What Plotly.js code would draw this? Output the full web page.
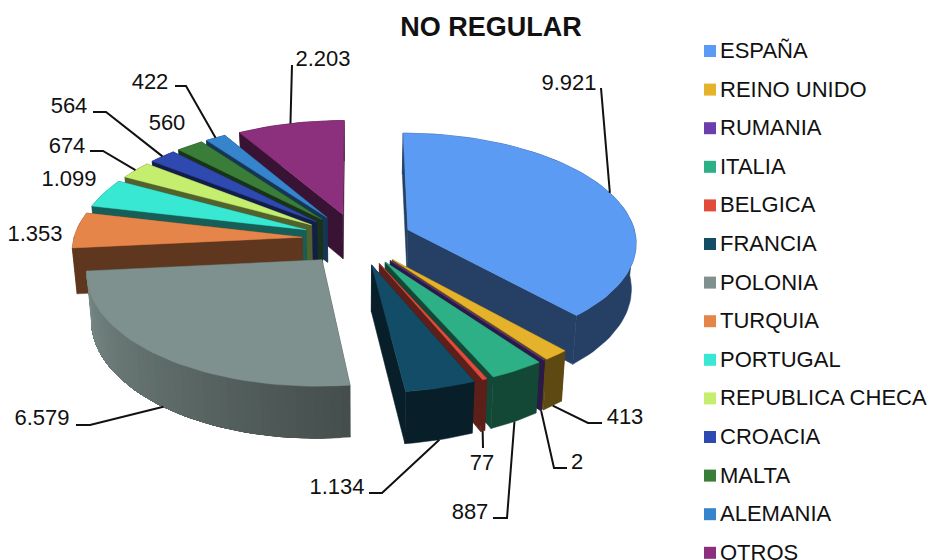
<!DOCTYPE html>
<html>
<head>
<meta charset="utf-8">
<script src="https://cdn.plot.ly/plotly-3.0.1.min.js"></script>
<style>html,body{margin:0;padding:0;background:#fff;overflow:hidden}</style>
</head>
<body>
<div id="chart" style="width:931px;height:560px"></div>
<script>
// ---- data ----
const categories = ["ESPAÑA","REINO UNIDO","RUMANIA","ITALIA","BELGICA","FRANCIA","POLONIA","TURQUIA","PORTUGAL","REPUBLICA CHECA","CROACIA","MALTA","ALEMANIA","OTROS"];
const values = [9921,413,2,887,77,1134,6579,1353,1099,674,564,560,422,2203];
const topColors = ["#5b9bf3","#e5b22c","#6a3fad","#2eb087","#e04b3c","#134c66","#7f918e","#e6854a","#38e8d2","#c5ee6e","#2e49b0","#3a7d38","#3584cc","#8c2f7d"];
// data-label centres
const labelX = [569,625,577,470,482,337,42,35,69,67,69,167,150,323];
const labelY = [84,418,463,513,464,488,419,235,180,147,107,124,83,60];
// leader elbows (from the label side); empty = no leader
const leaderElbows = [
  [[601,88]],[[602,423],[588,423]],[[567,468],[554,468]],[[493,518],[507,518]],[[483,448]],
  [[369,493],[382,493]],[[76,425],[90,425]],[],[],[[90,151],[103,151]],[[93,112],[106,112]],[],[[175,86],[186,86]],[[292,65]]
];
// ---- projection settings ----
const Cx=357, Cy=239, R=228.5, E=55, P=0.000458, K=0.475, T=45.5, SHR=0.983;
const WALL=0.41;
const legendX=710, legendTextX=720, legendY0=51, legendStep=38.6;
const GRADIENT_SLICE=6, GRAD_DARK=0.54, GRAD_LIGHT=0.95;

function project(X,Z,h){
  const w=1-P*Z;
  return [Cx+X/w*(h?SHR:1), Cy+K*Z/w+h*T/w];
}
function hexRgb(c){return [1,3,5].map(i=>parseInt(c.substr(i,2),16));}
function shade(c,f){return "rgb("+hexRgb(c).map(v=>Math.round(v*f)).join(",")+")";}
function poly(pts,color){
  const xs=pts.map(p=>p[0]), ys=pts.map(p=>p[1]);
  xs.push(xs[0]); ys.push(ys[0]);
  return {x:xs,y:ys,type:"scatter",mode:"lines",fill:"toself",fillcolor:color,
          line:{color:color,width:0.5},hoverinfo:"skip",showlegend:false};
}
const total=values.reduce((a,b)=>a+b,0);
let cum=0;
const slices=values.map((v,i)=>{
  const a0=cum/total*2*Math.PI; cum+=v;
  const a1=cum/total*2*Math.PI;
  const m=(a0+a1)/2;
  return {i,a0,a1,m,ax:E*Math.sin(m),az:-E*Math.cos(m),color:topColors[i]};
});
function rim(s,a){return [s.ax+R*Math.sin(a), s.az-R*Math.cos(a)];}
// wall polygon over arc points j..k
function wallPoly(arc,j,k){
  const topEdge=[],botEdge=[];
  for(let q=j;q<=k;q++){topEdge.push(project(arc[q][0],arc[q][1],0));botEdge.unshift(project(arc[q][0],arc[q][1],1));}
  return topEdge.concat(botEdge);
}

const traces=[];
slices.slice().sort((p,q)=>p.az-q.az).forEach(s=>{
  const n=Math.max(2,Math.ceil((s.a1-s.a0)/(Math.PI/90)));
  const angle=j=>s.a0+(s.a1-s.a0)*j/n;
  const arc=[];
  for(let j=0;j<=n;j++) arc.push(rim(s,angle(j)));
  const wallCol=shade(s.color,WALL);
  // split the outer wall into back-facing and front-facing runs
  const runs=[];
  for(let j=0;j<n;j++){
    const front=Math.cos(angle(j+.5))<0;
    if(runs.length&&runs[runs.length-1].front===front) runs[runs.length-1].end=j+1;
    else runs.push({front,start:j,end:j+1});
  }
  const drawRun=r=>{
    if(s.i===GRADIENT_SLICE){
      // each strip runs on to the end of the wall and the next one paints over it: no seams
      for(let j=r.start;j<r.end;j++){
        const t=j/(n-1);
        traces.push(poly(wallPoly(arc,j,r.end),shade(s.color,GRAD_DARK+(GRAD_LIGHT-GRAD_DARK)*t)));
      }
    } else traces.push(poly(wallPoly(arc,r.start,r.end),wallCol));
  };
  runs.filter(r=>!r.front).forEach(drawRun);
  // radial walls, the further one first
  [arc[0],arc[n]].sort((p,q)=>p[1]-q[1]).forEach(p=>{
    traces.push(poly([project(s.ax,s.az,0),project(p[0],p[1],0),project(p[0],p[1],1),project(s.ax,s.az,1)],wallCol));
  });
  runs.filter(r=>r.front).forEach(drawRun);
  // top face
  const top=[project(s.ax,s.az,0)].concat(arc.map(p=>project(p[0],p[1],0)));
  traces.push(poly(top,s.color));
});

// leader lines: from the label elbows to the middle of the slice's rim
slices.forEach(s=>{
  const el=leaderElbows[s.i];
  if(!el.length) return;
  const p=rim(s,s.m);
  const end=project(p[0],p[1],p[1]>0?1:0);
  const pts=el.concat([end]);
  traces.push({x:pts.map(a=>a[0]),y:pts.map(a=>a[1]),type:"scatter",mode:"lines",
    line:{color:"#111",width:2},hoverinfo:"skip",showlegend:false});
});

// data labels
const fmt=v=>String(v).replace(/\B(?=(\d{3})+(?!\d))/g,".");
traces.push({x:labelX,y:labelY,text:values.map(fmt),type:"scatter",mode:"text",textposition:"middle center",
  textfont:{family:"Liberation Sans, Arial, sans-serif",size:22,color:"#111"},hoverinfo:"skip",showlegend:false});

// legend
const legendY=categories.map((c,i)=>legendY0+i*legendStep);
traces.push({x:categories.map(()=>legendX),y:legendY,type:"scatter",mode:"markers",
  marker:{symbol:"square",size:12,color:topColors,line:{width:0}},hoverinfo:"skip",showlegend:false});
traces.push({x:categories.map(()=>legendTextX),y:legendY.map(v=>v+1.5),text:categories,type:"scatter",mode:"text",textposition:"middle right",
  textfont:{family:"Liberation Sans, Arial, sans-serif",size:22,color:"#111"},hoverinfo:"skip",showlegend:false});

const layout={
  width:931,height:560,margin:{l:0,r:0,t:0,b:0,pad:0},
  paper_bgcolor:"#fff",plot_bgcolor:"#fff",showlegend:false,hovermode:false,
  title:{text:"<b>NO REGULAR</b>",x:491/931,xanchor:"center",y:1-27/560,yanchor:"middle",
    font:{family:"Liberation Sans, Arial, sans-serif",size:27,color:"#111"}},
  xaxis:{range:[0,931],visible:false,fixedrange:true},
  yaxis:{range:[560,0],visible:false,fixedrange:true}
};
Plotly.newPlot("chart",traces,layout,{displayModeBar:false,staticPlot:true});
</script>
</body>
</html>
